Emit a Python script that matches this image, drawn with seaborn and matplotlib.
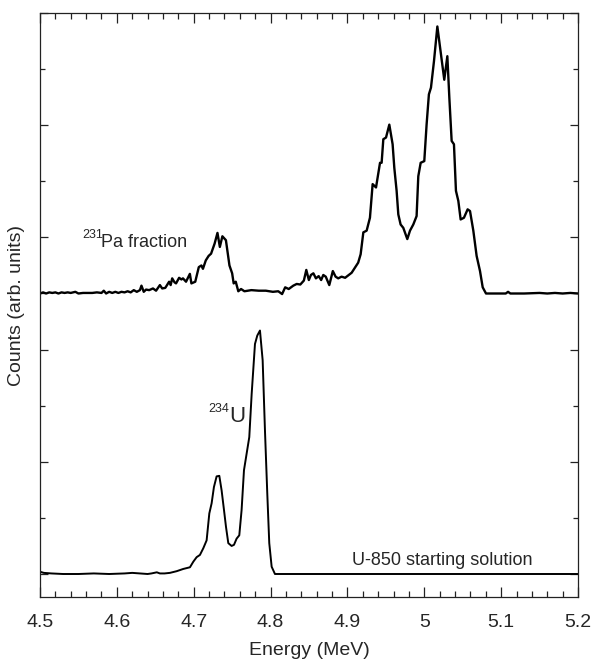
import matplotlib
matplotlib.use("Agg")
import matplotlib.pyplot as plt
from matplotlib.ticker import MultipleLocator, NullFormatter, NullLocator
import numpy as np
import pandas as pd
import seaborn as sns

# ---------------- data ----------------
# 231Pa fraction spectrum (energy in MeV, counts relative to its own baseline)
pa_energy = [
    4.500, 4.504, 4.508, 4.512, 4.516, 4.520, 4.524, 4.528, 4.532, 4.536,
    4.540, 4.546, 4.550, 4.556, 4.562, 4.568, 4.574, 4.580, 4.583, 4.586,
    4.590, 4.594, 4.598, 4.602, 4.606, 4.610, 4.614, 4.618, 4.622, 4.626,
    4.630, 4.632, 4.635, 4.638, 4.642, 4.647, 4.651, 4.656, 4.659, 4.663,
    4.668, 4.670, 4.672, 4.675, 4.677, 4.681, 4.684, 4.686, 4.690, 4.695,
    4.697, 4.702, 4.7066, 4.710, 4.712, 4.7157, 4.7194, 4.7226, 4.7272, 4.7309,
    4.734, 4.7373, 4.7419, 4.7465, 4.750, 4.752, 4.7547, 4.758, 4.7616, 4.766,
    4.775, 4.7846, 4.7938, 4.803, 4.810, 4.815, 4.819, 4.8236, 4.8296, 4.834,
    4.8387, 4.8433, 4.8465, 4.8498, 4.8525, 4.8557, 4.859, 4.8626, 4.8658, 4.8686,
    4.8718, 4.8764, 4.881, 4.8846, 4.888, 4.8924, 4.897, 4.9016, 4.9055, 4.9098,
    4.914, 4.9172, 4.9207, 4.925, 4.9293, 4.9328, 4.9372, 4.9402, 4.9424, 4.9445,
    4.9467, 4.9502, 4.9545, 4.9588, 4.961, 4.964, 4.9662, 4.9692, 4.9727, 4.9779,
    4.9814, 4.9857, 4.990, 4.9922, 4.9953, 5.000, 5.003, 5.006, 5.0087, 5.0126,
    5.017, 5.0217, 5.026, 5.030, 5.0326, 5.0356, 5.0386, 5.0412, 5.0443, 5.0473,
    5.0516, 5.0564, 5.0595, 5.0638, 5.0681, 5.0725, 5.076, 5.0803, 5.090, 5.100,
    5.106, 5.109, 5.112, 5.130, 5.150, 5.160, 5.170, 5.180, 5.190, 5.200,
]
pa_counts = [
    0.00, 0.02, 0.00, 0.02, 0.01, 0.02, 0.00, 0.02, 0.01, 0.02,
    0.01, 0.03, 0.00, 0.01, 0.01, 0.01, 0.02, 0.01, 0.05, 0.00,
    0.03, 0.01, 0.03, 0.01, 0.03, 0.02, 0.04, 0.02, 0.06, 0.03,
    0.06, 0.14, 0.03, 0.07, 0.06, 0.09, 0.05, 0.15, 0.09, 0.10,
    0.21, 0.15, 0.27, 0.20, 0.18, 0.28, 0.25, 0.27, 0.21, 0.35,
    0.18, 0.21, 0.47, 0.50, 0.44, 0.59, 0.67, 0.71, 0.89, 1.08,
    0.83, 1.02, 0.95, 0.50, 0.36, 0.18, 0.21, 0.04, 0.08, 0.04,
    0.06, 0.05, 0.05, 0.03, 0.04, -0.01, 0.11, 0.08, 0.14, 0.17,
    0.16, 0.23, 0.42, 0.24, 0.33, 0.36, 0.27, 0.31, 0.24, 0.33,
    0.30, 0.15, 0.40, 0.30, 0.27, 0.30, 0.28, 0.33, 0.37, 0.46,
    0.55, 0.70, 1.09, 1.12, 1.35, 1.95, 1.89, 2.15, 2.33, 2.33,
    2.75, 2.78, 3.01, 2.66, 2.24, 1.83, 1.41, 1.23, 1.17, 0.97,
    1.12, 1.23, 1.38, 2.09, 2.33, 2.36, 3.01, 3.55, 3.67, 4.14,
    4.76, 4.26, 3.81, 4.23, 3.49, 2.72, 2.66, 1.83, 1.65, 1.32,
    1.35, 1.50, 1.47, 1.12, 0.67, 0.40, 0.11, 0.00, 0.00, 0.00,
    0.00, 0.03, 0.00, 0.00, 0.01, 0.00, 0.01, 0.00, 0.01, 0.00,
]

# U-850 starting solution spectrum
u_energy = [
    4.500, 4.505, 4.515, 4.530, 4.550, 4.570, 4.590, 4.610, 4.620, 4.630,
    4.640, 4.645, 4.652, 4.656, 4.662, 4.669, 4.6778, 4.6864, 4.6951, 4.6995,
    4.7038, 4.7081, 4.7125, 4.7168, 4.7203, 4.7233, 4.7263, 4.7298, 4.7333, 4.7363,
    4.7394, 4.742, 4.745, 4.7493, 4.7524, 4.7558, 4.7593, 4.7623, 4.7654, 4.7689,
    4.7723, 4.7754, 4.7797, 4.7827, 4.7862, 4.7897, 4.7927, 4.7957, 4.7983, 4.8014,
    4.8057, 4.900, 5.000, 5.100, 5.200,
]
u_counts = [
    0.04, 0.02, 0.01, 0.00, 0.00, 0.01, 0.00, 0.01, 0.02, 0.01,
    0.00, 0.01, 0.03, 0.01, 0.01, 0.02, 0.05, 0.09, 0.12, 0.22,
    0.30, 0.34, 0.46, 0.60, 1.08, 1.26, 1.55, 1.74, 1.75, 1.49,
    1.14, 0.84, 0.55, 0.50, 0.52, 0.63, 0.69, 1.14, 1.85, 2.15,
    2.44, 3.21, 4.10, 4.25, 4.34, 3.81, 2.56, 1.44, 0.55, 0.13,
    0.00, 0.00, 0.00, 0.00, 0.00,
]

x_ticks = [4.5, 4.6, 4.7, 4.8, 4.9, 5.0, 5.1, 5.2]
x_tick_labels = ["4.5", "4.6", "4.7", "4.8", "4.9", "5", "5.1", "5.2"]

# ---------------- style ----------------
sns.set_style("ticks")
plt.rcParams["font.family"] = ["Liberation Sans", "DejaVu Sans"]

fig = plt.figure(figsize=(5.95, 6.63), dpi=100)
ax = fig.add_axes([40 / 595, 66 / 663, 538 / 595, 584 / 663])

pa_offset = 5.0
pa_df = pd.DataFrame({"energy": pa_energy, "counts": np.array(pa_counts) + pa_offset})
u_df = pd.DataFrame({"energy": u_energy, "counts": u_counts})

sns.lineplot(data=pa_df, x="energy", y="counts", ax=ax, color="black",
             linewidth=1.7, estimator=None, sort=False)
sns.lineplot(data=u_df, x="energy", y="counts", ax=ax, color="black",
             linewidth=1.4, estimator=None, sort=False)

for s in ax.spines.values():
    s.set_linewidth(0.9)
    s.set_color("#222222")

ax.set_xlabel("Energy (MeV)", fontsize=14, labelpad=8)
ax.set_ylabel("Counts (arb. units)", fontsize=14, labelpad=7)

# annotations
ax.text(4.5552, 5.99, "231", fontsize=9, ha="left", va="baseline")
ax.text(4.5795, 5.82, "Pa fraction", fontsize=13, ha="left", va="baseline")
ax.text(4.7186, 2.89, "234", fontsize=9, ha="left", va="baseline")
ax.text(4.7465, 2.71, "U", fontsize=16, ha="left", va="baseline")
ax.text(4.9064, 0.16, "U-850 starting solution", fontsize=13, ha="left", va="baseline")

ax.set_xlim(4.5, 5.2)
ax.set_ylim(-0.41, 10.0)

# x ticks: every 0.02 MeV, labelled every 0.1 MeV (long ticks at the labels)
label_map = {round(p, 2): lab for p, lab in zip(x_ticks, x_tick_labels)}
tick_pos = [round(4.5 + 0.02 * i, 2) for i in range(36)]
tick_lab = [label_map.get(p, "") for p in tick_pos]
ax.set_xticks(tick_pos)
ax.set_xticklabels(tick_lab)
ax.xaxis.set_minor_locator(NullLocator())

ax.yaxis.set_major_locator(MultipleLocator(2))
ax.yaxis.set_minor_locator(MultipleLocator(1))
ax.yaxis.set_major_formatter(NullFormatter())
ax.yaxis.set_minor_formatter(NullFormatter())

ax.tick_params(axis="both", which="both", direction="in", top=True, right=True,
               bottom=True, left=True, color="#222222")
ax.tick_params(axis="x", which="major", length=4, width=0.9, labelsize=14, pad=12)
ax.tick_params(axis="y", which="major", length=6, width=0.9)
ax.tick_params(axis="y", which="minor", length=3.8, width=0.9)

fig.canvas.draw()
for tick, lab in zip(ax.xaxis.get_major_ticks(), tick_lab):
    if lab:
        tick.tick1line.set_markersize(7.5)
        tick.tick2line.set_markersize(7.5)

fig.savefig("out.png", dpi=100)
